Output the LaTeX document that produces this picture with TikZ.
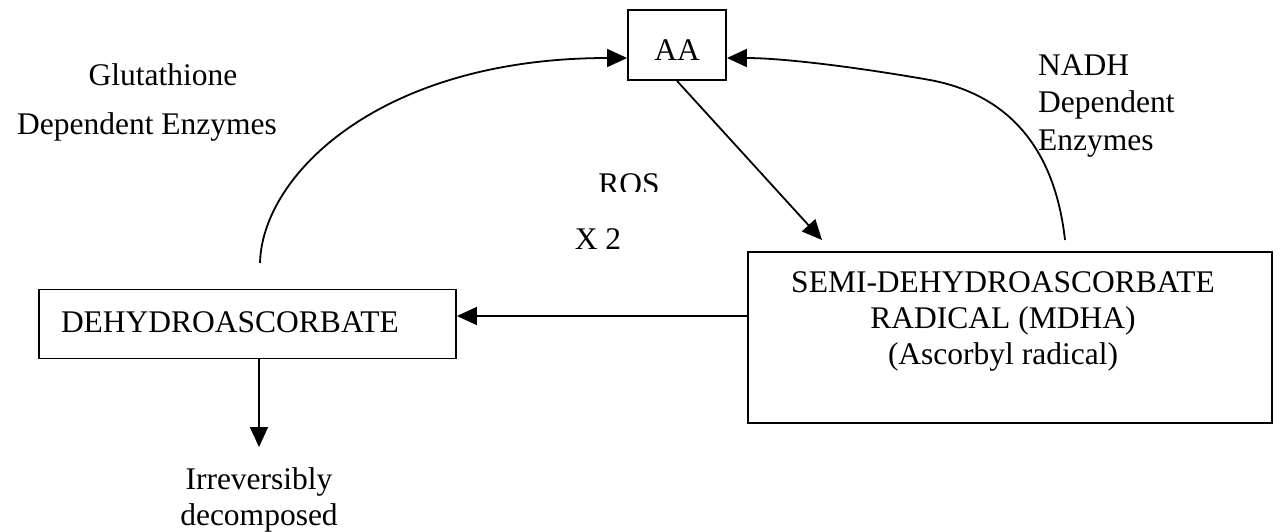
\documentclass[tikz,border=0pt]{standalone}
\usepackage{fontspec}
\setmainfont{Liberation Serif}
\usetikzlibrary{arrows.meta,calc}
\tikzset{%
  box/.style={draw, line width=1.8pt, rectangle, inner sep=0pt, font=\fontsize{31.5}{36}\selectfont},% plain boxes
  txt/.style={inner sep=0pt, font=\fontsize{31.5}{36}\selectfont},% free text
  flow/.style={line width=1.8pt, -{Triangle[length=20pt,width=18pt]}}% pathway arrows
}

\begin{document}
\begin{tikzpicture}[x=1pt, y=-1pt]
\useasboundingbox (0,0) rectangle (1281,531);

% the three species
\node[box, minimum width=98pt, minimum height=70pt, text height=31pt, text depth=0pt] (aa) at (677,45) {AA};
\node[box, minimum width=417pt, minimum height=69pt, text width=373pt, inner xsep=22pt,
  align=left, text height=21pt, text depth=5pt] (dha) at (247.5,324) {DEHYDROASCORBATE};
\node[box, minimum width=524pt, minimum height=171pt] (mdha) at (1010,337.5) {};
\node[txt, align=center, anchor=north] (mdhatxt) at (1003,271)
  {SEMI-DEHYDROASCORBATE\\RADICAL (MDHA)\\(Ascorbyl radical)};

% labels
\node[txt, anchor=base] (glut) at (163,85) {Glutathione};
\node[txt, anchor=base] (gdep) at (147,134) {Dependent Enzymes};
\node[txt, align=left, anchor=north west, font=\fontsize{31.5}{37.5}\selectfont] (nadh) at (1038,54)
  {NADH\\Dependent\\Enzymes};
\begin{scope}
  \clip (560,150) rectangle (700,191);
  \node[txt, anchor=base] (ros) at (629,194) {ROS};
\end{scope}
\node[txt, anchor=base] (x2) at (598,249) {X 2};
\node[txt, align=center, anchor=north] (irr) at (259,467) {Irreversibly\\decomposed};

% loose ends of the arrows
\coordinate (gstart) at (260,263);
\coordinate (nstart) at (1065,240);
\coordinate (rostip) at (822,240);
\coordinate (decomp) at (259,447);

\draw[flow] (gstart) .. controls (262,175) and (380,58) .. ([yshift=-13pt]aa.west);
\draw[flow] (nstart) .. controls (1055,150) and (1010,95) .. (930,80)
  .. controls (850,66) and (780,58) .. ([yshift=-13pt]aa.east);
\draw[flow] (aa.south) -- (rostip);
\draw[flow] ([yshift=21.5pt]mdha.west) -- ([yshift=8pt]dha.east);
\draw[flow] ([xshift=11.5pt]dha.south) -- (decomp);

\end{tikzpicture}
\end{document}
